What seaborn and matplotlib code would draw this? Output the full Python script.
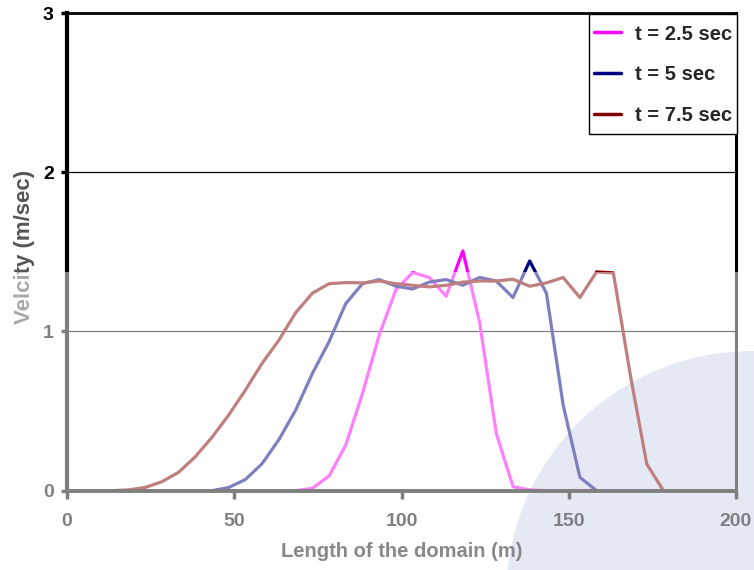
import numpy as np
import pandas as pd
import matplotlib
matplotlib.use("Agg")
import matplotlib.pyplot as plt
import seaborn as sns
from matplotlib.patches import Ellipse, Rectangle
from matplotlib.lines import Line2D

# ---- data ----
x_vals = [3.33, 8.33, 13.33, 18.33, 23.33, 28.33, 33.33, 38.33, 43.33, 48.33,
          53.33, 58.33, 63.33, 68.33, 73.33, 78.33, 83.33, 88.33, 93.33, 98.33,
          103.33, 108.33, 113.33, 118.33, 123.33, 128.33, 133.33, 138.33, 143.33, 148.33,
          153.33, 158.33, 163.33, 168.33, 173.33, 178.33, 183.33, 188.33, 193.33, 198.33, 200.0]

v_t25 = [0, 0, 0, 0, 0, 0, 0, 0, 0, 0,
         0, 0, 0, 0, 0.015, 0.092, 0.287, 0.611, 0.977, 1.263,
         1.37, 1.339, 1.221, 1.506, 1.06, 0.36, 0.025, 0.005, 0, 0,
         0, 0, 0, 0, 0, 0, 0, 0, 0, 0, 0]

v_t5 = [0, 0, 0, 0, 0, 0, 0, 0, 0, 0.02,
        0.07, 0.17, 0.32, 0.505, 0.735, 0.935, 1.175, 1.30, 1.326, 1.284,
        1.267, 1.31, 1.326, 1.29, 1.339, 1.317, 1.213, 1.443, 1.24, 0.538,
        0.084, 0, 0, 0, 0, 0, 0, 0, 0, 0, 0]

v_t75 = [0, 0, 0, 0.005, 0.02, 0.056, 0.115, 0.213, 0.335, 0.475,
         0.632, 0.80, 0.945, 1.117, 1.24, 1.30, 1.307, 1.305, 1.317, 1.30,
         1.29, 1.28, 1.29, 1.31, 1.317, 1.317, 1.328, 1.284, 1.305, 1.339,
         1.213, 1.374, 1.368, 0.736, 0.167, 0, 0, 0, 0, 0, 0]

series_labels = ["t = 2.5 sec", "t = 5 sec", "t = 7.5 sec"]
series_colors = ["#FF00FF", "#000080", "#800000"]
x_ticks = [0, 50, 100, 150, 200]
y_ticks = [0, 1, 2, 3]

df = pd.concat([
    pd.DataFrame({"x": x_vals, "v": v, "series": lab})
    for v, lab in zip([v_t25, v_t5, v_t75], series_labels)
], ignore_index=True)

sns.set_theme(style="white")
plt.rcParams["font.family"] = ["Liberation Sans", "DejaVu Sans"]
plt.rcParams["font.weight"] = "bold"

W, H = 754, 570
fig = plt.figure(figsize=(W / 100, H / 100), dpi=100)
fig.patch.set_facecolor("white")

# watermark disc (behind the axes)
cx, cy, r = 752, 597, 246
disc = Ellipse((cx / W, 1 - cy / H), 2 * r / W, 2 * r / H,
               transform=fig.transFigure, facecolor="#c9d4ea",
               edgecolor="none", zorder=-5)
fig.add_artist(disc)

ax = fig.add_axes([67 / W, (H - 490.7) / H, (736 - 67) / W, (490.7 - 13) / H])
ax.set_facecolor("none")
ax.set_zorder(1)

sns.lineplot(data=df, x="x", y="v", hue="series", hue_order=series_labels,
             palette=dict(zip(series_labels, series_colors)),
             linewidth=2.3, ax=ax, legend=False, sort=False)

ax.set_xlim(0, 200)
ax.set_ylim(0, 3)
ax.set_xticks(x_ticks)
ax.set_yticks(y_ticks)
ax.set_xticklabels([str(t) for t in x_ticks], fontsize=14, fontweight="bold", color="black")
ax.set_yticklabels([str(t) for t in y_ticks], fontsize=14, fontweight="bold", color="black")
ax.tick_params(axis="x", direction="out", length=5.5, width=2.5, color="black", pad=10.5, bottom=True)
ax.tick_params(axis="y", direction="out", length=4.6, width=2.5, color="black", pad=5.0, left=True)

for y in [1, 2]:
    ax.axhline(y, color="black", linewidth=0.9, zorder=0.5)

for side, lw in [("left", 3.0), ("bottom", 2.8), ("right", 2.2), ("top", 2.0)]:
    ax.spines[side].set_visible(True)
    ax.spines[side].set_color("black")
    ax.spines[side].set_linewidth(lw)

ax.set_xlabel("Length of the domain (m)", fontsize=14.5, fontweight="bold",
              color="#111111", labelpad=9)
ax.set_ylabel("Velcity (m/sec)", fontsize=16, fontweight="bold",
              color="#555555")
ax.yaxis.set_label_coords(-0.0476, 0.511)

# legend frame (drawn separately so the padding can differ per direction)
frame = Rectangle((588.7 / W, 1 - 134.3 / H), (737.3 - 588.7) / W, (134.3 - 14) / H,
                  transform=fig.transFigure, facecolor="white", edgecolor="black",
                  linewidth=1.0, zorder=4, clip_on=False)
ax.add_patch(frame)

handles = [Line2D([], [], color=c, linewidth=2.5) for c in series_colors]
leg = ax.legend(handles, series_labels, loc="upper right",
                bbox_to_anchor=(732.5 / W, 1 - 24.5 / H),
                bbox_transform=fig.transFigure, borderaxespad=0.0,
                prop={"size": 14.5, "weight": "bold"},
                frameon=False, handlelength=1.33, handletextpad=0.7,
                labelspacing=1.07, borderpad=0.0)
leg.set_zorder(5)

# semi-transparent white overlay over the lower part of the image
overlay = Rectangle((0, 0), 1, (H - 271.5) / H, transform=fig.transFigure,
                    facecolor="white", alpha=0.5, edgecolor="none", zorder=50)
fig.add_artist(overlay)

fig.savefig("out.png", dpi=100)
